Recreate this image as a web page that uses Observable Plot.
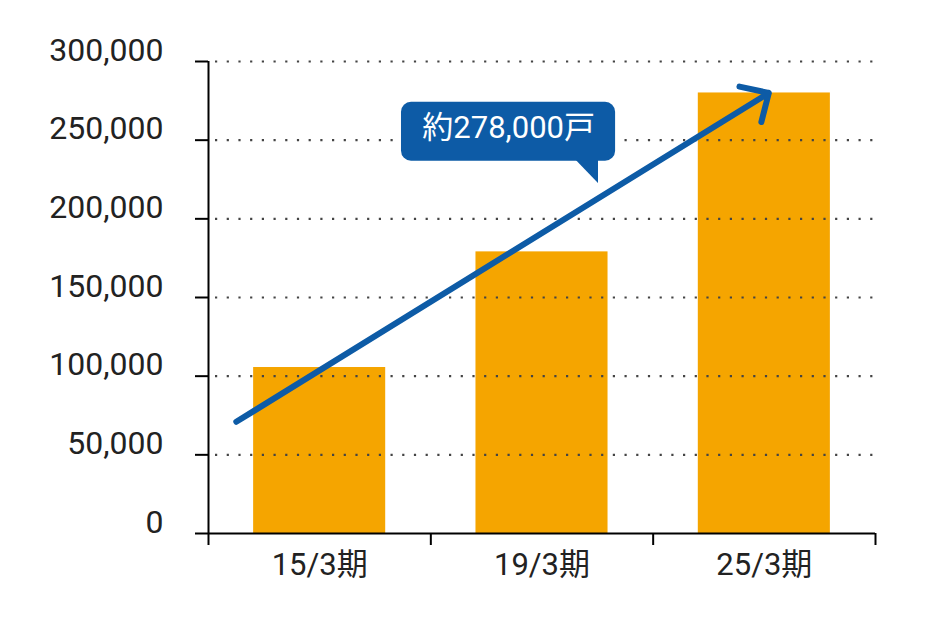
<!DOCTYPE html>
<html>
<head>
<meta charset="utf-8">
<script src="https://cdn.jsdelivr.net/npm/d3@7"></script>
<script src="https://cdn.jsdelivr.net/npm/@observablehq/plot@0.6"></script>
<style>
  html, body { margin: 0; padding: 0; background: #fff; }
  #chart svg { display: block; }
</style>
</head>
<body>
<div id="chart"></div>
<script>
// ---- data ----
const categories = ["15/3期", "19/3期", "25/3期"];
const values = [105500, 179000, 280000];
const yTicks = [0, 50000, 100000, 150000, 200000, 250000, 300000];
const calloutText = "約278,000戸";

// annotation (data coordinates: x = category index, y = value)
const arrowSpec = {x1: -0.375, y1: 71000, x2: 2.02, y2: 280000};
const calloutBox = {x1: 0.368, x2: 1.331, y1: 236600, y2: 274100};
const calloutTail = [
  {x: 1.151, top: 237600, bottom: 237600},
  {x: 1.254, top: 237600, bottom: 222400}
];
const calloutLabel = {x: 0.85, y: 257400};

const bars = categories.map((c, i) => ({cat: c, i, value: values[i]}));
const boundaries = d3.range(categories.length + 1).map(i => i - 0.5);

const font = "Roboto, 'Noto Sans CJK JP', sans-serif";
const ink = "#222";
const blue = "#0d5ba6";

const chart = Plot.plot({
  width: 930,
  height: 626,
  marginLeft: 208,
  marginRight: 55,
  marginTop: 61,
  marginBottom: 93,
  style: {fontFamily: font, color: ink, background: "#fff"},
  x: {type: "linear", domain: [-0.5, categories.length - 0.5]},
  y: {domain: [0, 300000]},
  marks: [
    Plot.rectY(bars, {x1: d => d.i - 0.297, x2: d => d.i + 0.297, y: "value", fill: "#f5a500"}),
    Plot.ruleY(yTicks.filter(d => d > 0), {stroke: "#444", strokeWidth: 2.2, strokeDasharray: "2.2,9.5", strokeDashoffset: -7}),
    Plot.arrow([arrowSpec], {x1: "x1", y1: "y1", x2: "x2", y2: "y2", stroke: blue, strokeWidth: 6, headAngle: 88, headLength: 7.5, strokeLinecap: "round", strokeLinejoin: "round"}),
    Plot.areaY(calloutTail, {x: "x", y1: "bottom", y2: "top", fill: blue, curve: "linear"}),
    Plot.rect([calloutBox], {x1: "x1", x2: "x2", y1: "y1", y2: "y2", fill: blue, rx: 10}),
    Plot.text([calloutText], {x: calloutLabel.x, y: calloutLabel.y, text: d => d, fill: "#fff", fontSize: 31, fontFamily: font}),
    // y ticks (no labels)
    Plot.axisY({ticks: yTicks, tickSize: 13, tickFormat: () => "", stroke: "#000", strokeWidth: 2, label: null}),
    // y labels, set slightly above their ticks
    Plot.axisY({ticks: yTicks, tickSize: 0, tickPadding: 45, dy: -11, tickFormat: d3.format(","), fontSize: 32, label: null, fill: ink}),
    // x ticks at category boundaries
    Plot.axisX({ticks: boundaries, tickSize: 12, tickFormat: () => "", stroke: "#000", strokeWidth: 2, label: null}),
    // x category labels
    Plot.axisX({ticks: d3.range(categories.length), tickSize: 0, tickPadding: 19, tickFormat: i => categories[i], fontSize: 31, label: null, fill: ink}),
    Plot.ruleY([0], {stroke: "#000", strokeWidth: 2}),
    Plot.ruleX([-0.5], {stroke: "#000", strokeWidth: 2})
  ]
});
document.getElementById("chart").appendChild(chart);
</script>
</body>
</html>
